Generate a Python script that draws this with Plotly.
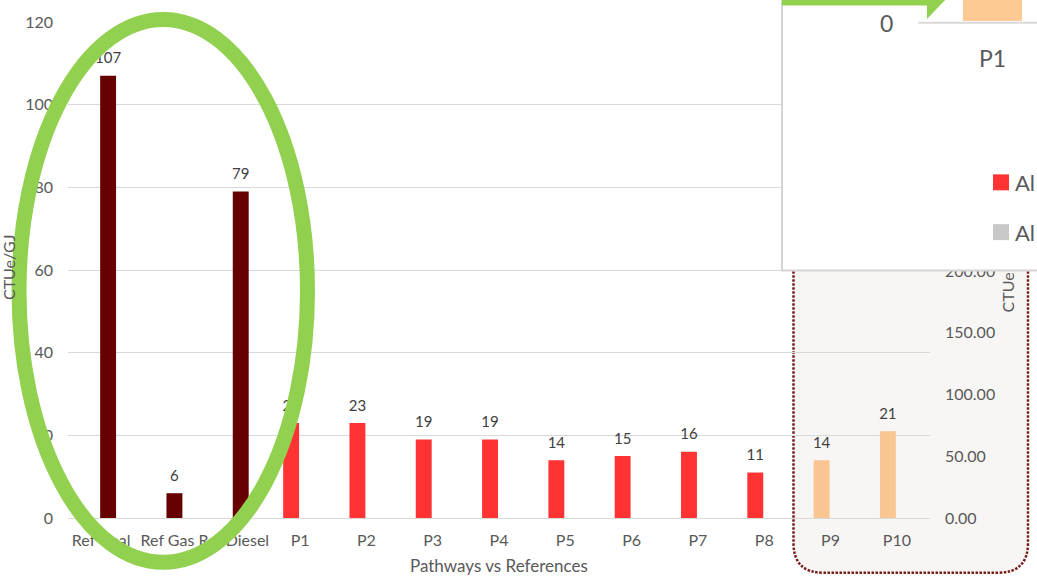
import plotly.graph_objects as go

# ---- data ----
categories = ["Ref Coal", "Ref Gas", "Ref Diesel", "P1", "P2", "P3", "P4",
              "P5", "P6", "P7", "P8", "P9", "P10"]
ref_values = [107, 6, 79]
pathway_values = [23, 23, 19, 19, 14, 15, 16, 11, 14, 21]
pathway_colors = ["#ff3333"] * 8 + ["#f9c590"] * 2
left_ticks = [0, 20, 40, 60, 80, 100, 120]
right_ticks = [0, 50, 100, 150, 200, 250, 300, 350, 400]

# ---- page geometry ----
W, H = 1037, 577
ML, MR, MT, MB = 68, 107, 20, 59
PW, PH = W - ML - MR, H - MT - MB

FONT = "Lato"
GREY = "#595959"


def px(x):
    return (x - ML) / PW


def py(y):
    return (H - MB - y) / PH


def pt(x, y):
    return f"{px(x):.5f},{py(y):.5f}"


ref_idx = list(range(len(ref_values)))
path_idx = list(range(len(ref_values), len(categories)))

BAR_W = 0.24
REF_OFF = -0.015
PATH_OFF = -0.255

fig = go.Figure()

fig.add_trace(go.Bar(
    x=ref_idx, y=ref_values, width=BAR_W, offset=REF_OFF,
    marker=dict(color="#660000", line=dict(width=0)),
    hoverinfo="skip", showlegend=False,
))
fig.add_trace(go.Bar(
    x=path_idx, y=pathway_values, width=BAR_W, offset=PATH_OFF,
    marker=dict(color=pathway_colors, line=dict(width=0)),
    hoverinfo="skip", showlegend=False,
))

# value labels sitting above each bar
label_x = [i + REF_OFF + BAR_W / 2 for i in ref_idx] + \
          [i + PATH_OFF + BAR_W / 2 for i in path_idx]
label_y = ref_values + pathway_values
fig.add_trace(go.Scatter(
    x=label_x, y=label_y, mode="markers+text",
    text=[str(v) for v in label_y], textposition="top center",
    textfont=dict(family=FONT, size=15, color="#404040"),
    marker=dict(size=12.2, opacity=0),
    cliponaxis=False, hoverinfo="skip", showlegend=False,
))

# empty trace that carries the secondary (right-hand) axis
fig.add_trace(go.Scatter(x=[], y=[], yaxis="y2", mode="lines",
                         hoverinfo="skip", showlegend=False))

shapes = []

# highlighted panel behind the last two pathways
r = 30
x0, x1, yb, yt = 793.5, 1028, 573, 230
panel = (f"M {pt(x0, yt)} L {pt(x0, yb - r)} Q {pt(x0, yb)} {pt(x0 + r, yb)} "
         f"L {pt(x1 - r, yb)} Q {pt(x1, yb)} {pt(x1, yb - r)} L {pt(x1, yt)} Z")
shapes.append(dict(type="path", xref="paper", yref="paper", path=panel,
                   fillcolor="#f8f6f4", layer="below",
                   line=dict(color="#7a1c1c", width=2.5, dash="2.5px,1.5px")))

# ring around the reference fuels
shapes.append(dict(type="circle", xref="paper", yref="paper",
                   x0=px(163.25 - 144.25), x1=px(163.25 + 144.25),
                   y0=py(562.5), y1=py(17.5), layer="above",
                   line=dict(color="#92d050", width=15),
                   fillcolor="rgba(0,0,0,0)"))

# inset panel in the upper right
shapes.append(dict(type="rect", xref="paper", yref="paper",
                   x0=px(782), x1=px(1050), y0=py(269.5), y1=py(-10),
                   layer="above", fillcolor="#ffffff",
                   line=dict(color="#d4d4d4", width=2)))
shapes.append(dict(type="line", xref="paper", yref="paper",
                   x0=px(918), x1=px(1050), y0=py(20.7), y1=py(20.7),
                   layer="above", line=dict(color="#d9d9d9", width=2)))
shapes.append(dict(type="rect", xref="paper", yref="paper",
                   x0=px(963), x1=px(1022), y0=py(19), y1=py(-5),
                   layer="above", fillcolor="#fdca93", line=dict(width=0)))
shapes.append(dict(type="rect", xref="paper", yref="paper",
                   x0=px(993), x1=px(1009), y0=py(189), y1=py(173),
                   layer="above", fillcolor="#ff3333", line=dict(width=0)))
shapes.append(dict(type="rect", xref="paper", yref="paper",
                   x0=px(993), x1=px(1009), y0=py(239), y1=py(223),
                   layer="above", fillcolor="#c8c8c8", line=dict(width=0)))
arrow = (f"M {pt(782, -3)} L {pt(946, -3)} L {pt(927, 17)} "
         f"L {pt(927, 3.5)} L {pt(782, 3.5)} Z")
shapes.append(dict(type="path", xref="paper", yref="paper", path=arrow,
                   layer="above", fillcolor="#92d050", line=dict(width=0)))


def note(text, x, y, size, angle=0, xanchor="center"):
    return dict(text=text, xref="paper", yref="paper", x=px(x), y=py(y),
                xanchor=xanchor, yanchor="middle", textangle=angle,
                showarrow=False, font=dict(family=FONT, size=size, color=GREY))


annotations = [
    note("Pathways vs References", 499, 566, 17),
    note("CTUe/GJ", 8, 266, 16, angle=-90),
    note("CTUe", 1007, 291.5, 16, angle=-90),
    note("0", 886, 21, 23),
    note("P1", 992, 56, 23),
    note("Al", 1013, 181, 22, xanchor="left"),
    note("Al", 1013, 231, 22, xanchor="left"),
]

fig.update_layout(
    width=W, height=H,
    margin=dict(l=ML, r=MR, t=MT, b=MB, pad=0),
    paper_bgcolor="#ffffff", plot_bgcolor="rgba(0,0,0,0)",
    barmode="overlay",
    font=dict(family=FONT, color=GREY),
    xaxis=dict(range=[-0.5, len(categories) - 0.5],
               tickvals=list(range(len(categories))), ticktext=categories,
               showgrid=False, zeroline=False, showline=False, ticks="",
               ticklabelstandoff=11,
               tickfont=dict(family=FONT, size=16, color=GREY)),
    yaxis=dict(range=[0, 120], tickvals=left_ticks,
               showgrid=True, gridcolor="#d9d9d9", gridwidth=1.3,
               zeroline=True, zerolinecolor="#d9d9d9", zerolinewidth=1.3,
               showline=False, ticks="", ticklabelstandoff=14,
               tickfont=dict(family=FONT, size=16, color=GREY)),
    yaxis2=dict(range=[0, 401.6], tickvals=right_ticks, tickformat=".2f",
                overlaying="y", side="right", anchor="x",
                showgrid=False, zeroline=False, showline=False, ticks="",
                ticklabelstandoff=14,
                tickfont=dict(family=FONT, size=16, color=GREY)),
    shapes=shapes,
    annotations=annotations,
)

fig.write_html("out.html")
